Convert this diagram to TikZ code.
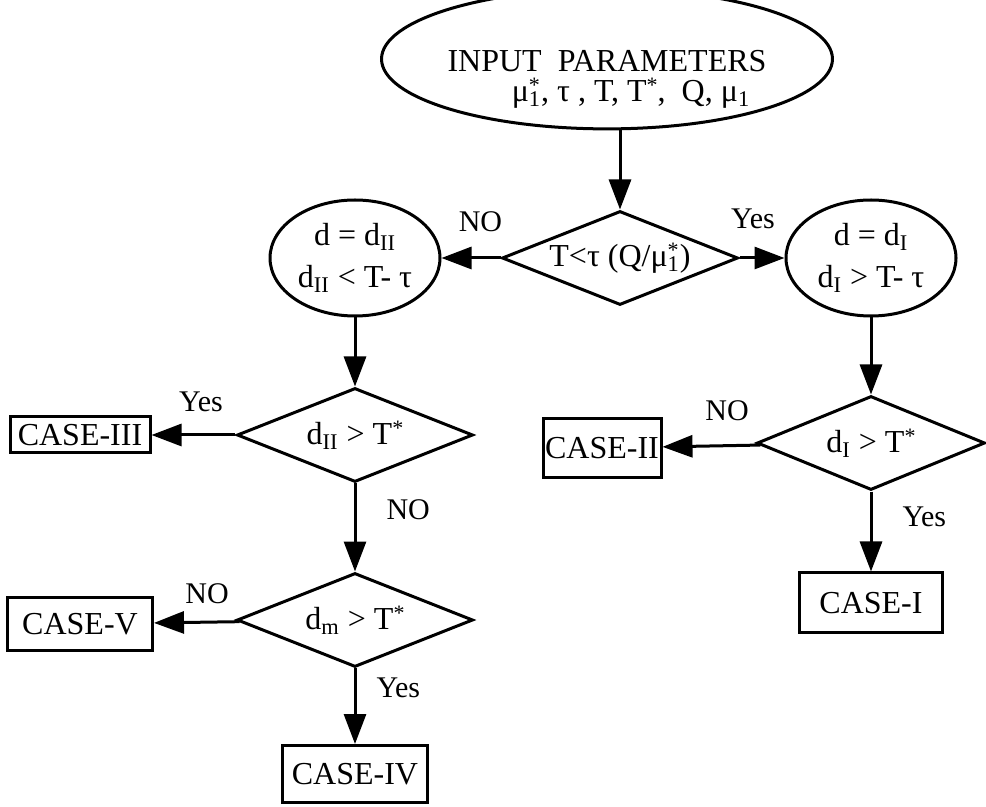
\documentclass[tikz,border=0pt]{standalone}
\usepackage{fontspec}
\setmainfont{Liberation Serif}
\usetikzlibrary{shapes.geometric, arrows.meta}
\newcommand{\sstar}{\raisebox{4.5pt}{\fontsize{11}{11}\selectfont *}}
\newcommand{\subsup}[1]{\rlap{\sstar}\textsubscript{#1}}
\newcommand{\mustar}{μ\subsup{1}}
\tikzstyle{startstop} = [ellipse,
minimum width=207pt,
minimum height=53pt,
inner sep=0pt,
align=center,
draw=black,
line width=1.5pt]
\tikzstyle{assign} = [ellipse,
minimum width=85pt,
minimum height=58pt,
inner sep=0pt,
align=center,
draw=black,
line width=1.5pt]
\tikzstyle{decision} = [diamond,
aspect=2.5,
minimum width=118pt,
minimum height=47pt,
inner sep=0pt,
text centered,
draw=black,
line width=1.5pt]
\tikzstyle{casebox} = [rectangle,
minimum width=72pt,
minimum height=27pt,
inner sep=0pt,
text centered,
draw=black,
line width=1.5pt]
\tikzstyle{arrow} = [line width=1.5pt,-{Triangle[length=15pt,width=11pt]}]
\tikzstyle{tag} = [inner sep=0pt, font=\fontsize{15}{18}\selectfont]
\begin{document}
\begin{tikzpicture}[x=0.5pt, y=-0.5pt, font=\fontsize{16}{21}\selectfont]
\useasboundingbox (0,0) rectangle (986,807);

\node (input) [startstop] at (607,59) {\rule{0pt}{31pt}INPUT\ \ PARAMETERS\\[-6pt]
\hspace*{24pt}\mustar, τ , T, T\sstar,\ \ Q, μ\textsubscript{1}};
\node (dec1) [decision, below of=input, node distance=99.5pt, xshift=6.5pt] {T<τ (Q/\mustar)};
\node (dII) [assign, left of=dec1, node distance=132.5pt] {d = d\textsubscript{II}\\ d\textsubscript{II} < T- τ};
\node (dI) [assign, right of=dec1, node distance=125.5pt] {d = d\textsubscript{I}\\ d\textsubscript{I} > T- τ};

% left branch
\node (dec2) [decision, below of=dII, node distance=88.5pt] {d\textsubscript{II} > T\sstar};
\node (case3) [casebox, left of=dec2, node distance=137.5pt, minimum width=70pt, minimum height=18pt] {CASE-III};
\node (dec3) [decision, below of=dec2, node distance=92.5pt] {d\textsubscript{m} > T\sstar};
\node (case5) [casebox, left of=dec3, node distance=137.5pt, yshift=-2pt, minimum width=72.5pt, minimum height=26.5pt] {CASE-V};
\node (case4) [casebox, below of=dec3, node distance=77pt, minimum width=72.5pt, minimum height=28.5pt] {CASE-IV};

% right branch
\node (dec4) [decision, below of=dI, node distance=92.5pt, minimum width=114pt] {d\textsubscript{I} > T\sstar};
\node (case2) [casebox, left of=dec4, node distance=134.5pt, yshift=-2.5pt, minimum width=59pt, minimum height=29.5pt] {CASE-II};
\node (case1) [casebox, below of=dec4, node distance=80pt, minimum width=71.5pt, minimum height=30pt] {CASE-I};

\draw [arrow] (input.south -| dec1) -- (dec1);
\draw [arrow] (dec1) -- node[tag, pos=0.34, above=12.5pt] {NO} (dII);
\draw [arrow] (dec1) -- node[tag, pos=0.3, above=14pt] {Yes} (dI);
\draw [arrow] (dII) -- (dec2);
\draw [arrow] (dec2) -- node[tag, pos=0.41, above=11pt] {Yes} (case3);
\draw [arrow] (dec2) -- node[tag, pos=0.3, right=15pt] {NO} (dec3);
\draw [arrow] (dec3) -- node[tag, pos=0.38, above=8.5pt] {NO} (case5);
\draw [arrow] (dec3) -- node[tag, pos=0.26, right=10pt] {Yes} (case4);
\draw [arrow] (dI) -- (dec4);
\draw [arrow] (dec4) -- node[tag, pos=0.34, above=11.5pt] {NO} (case2);
\draw [arrow] (dec4) -- node[tag, pos=0.32, right=15pt] {Yes} (case1);

\end{tikzpicture}
\end{document}
